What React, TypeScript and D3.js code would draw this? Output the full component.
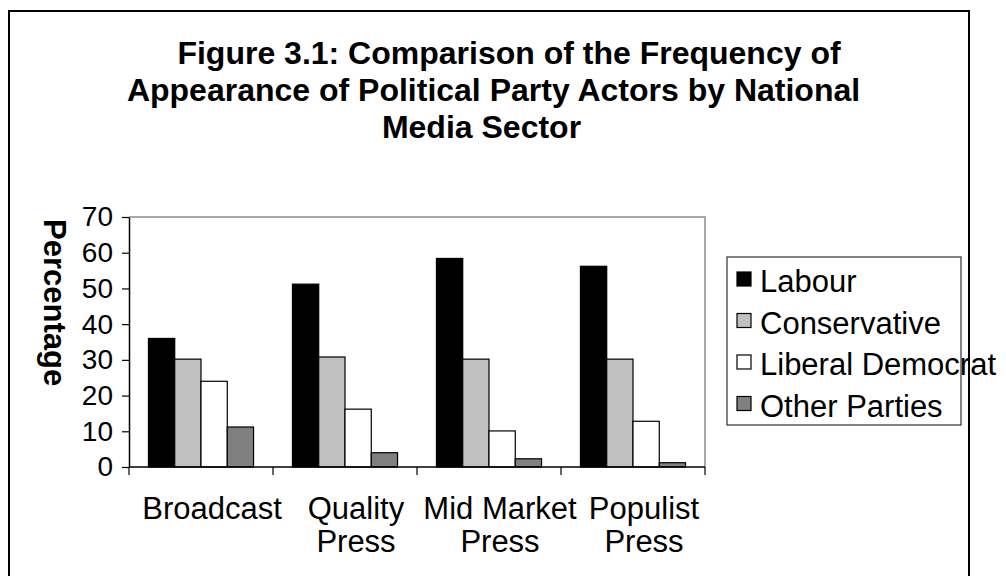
import React, { useEffect, useRef } from 'react';
import * as d3 from 'd3';

const sectors: string[][] = [['Broadcast'], ['Quality', 'Press'], ['Mid Market', 'Press'], ['Populist', 'Press']];
const sectorKeys = ['Broadcast', 'Quality Press', 'Mid Market Press', 'Populist Press'];
const parties = ['Labour', 'Conservative', 'Liberal Democrat', 'Other Parties'];
const partyColors = ['#000000', '#c0c0c0', '#ffffff', '#808080'];

const labour = [36.0, 51.2, 58.4, 56.2];
const conservative = [30.2, 30.8, 30.2, 30.2];
const libDem = [24.0, 16.2, 10.1, 12.8];
const otherParties = [11.2, 4.0, 2.3, 1.2];

const yTicks = [0, 10, 20, 30, 40, 50, 60, 70];
const titleLines = [
  'Figure 3.1: Comparison of the Frequency of',
  'Appearance of Political Party Actors by National',
  'Media Sector',
];

const FONT = "'Liberation Sans', Arial, sans-serif";

export default function App() {
  const svgRef = useRef<SVGSVGElement>(null);
  const width = 1006;
  const height = 576;

  useEffect(() => {
    if (!svgRef.current) return;
    const svg = d3.select(svgRef.current);
    svg.selectAll('*').remove();

    const plot = { left: 129, right: 705, top: 217, bottom: 467 };
    const series = [labour, conservative, libDem, otherParties];

    // outer frame (bottom edge is cut off in the original)
    svg.append('rect')
      .attr('x', 9).attr('y', 11)
      .attr('width', 960).attr('height', 620)
      .attr('fill', 'none')
      .attr('stroke', '#000')
      .attr('stroke-width', 2);

    // title
    const titleCenters = [509, 493.5, 481.5];
    titleLines.forEach((t, i) => {
      svg.append('text')
        .attr('x', titleCenters[i])
        .attr('y', 64 + i * 37)
        .attr('text-anchor', 'middle')
        .style('font-family', FONT)
        .style('font-weight', 'bold')
        .style('font-size', '32px')
        .text(t);
    });

    const x0 = d3.scaleBand<string>()
      .domain(sectorKeys)
      .range([plot.left, plot.right])
      .padding(0);

    const x1 = d3.scaleBand<string>()
      .domain(parties)
      .range([0, x0.bandwidth()])
      .paddingInner(0)
      .paddingOuter(0.74);

    const y = d3.scaleLinear()
      .domain([0, 70])
      .range([plot.bottom, plot.top]);

    // plot border (top/right grey)
    svg.append('path')
      .attr('d', `M${plot.left},${plot.top}H${plot.right}V${plot.bottom}`)
      .attr('fill', 'none')
      .attr('stroke', '#8c8c8c')
      .attr('stroke-width', 1.5);

    // bars
    sectorKeys.forEach((s, si) => {
      const g = svg.append('g').attr('transform', `translate(${x0(s)},0)`);
      parties.forEach((p, pi) => {
        const v = series[pi][si];
        g.append('rect')
          .attr('x', x1(p)!)
          .attr('y', y(v))
          .attr('width', x1.bandwidth())
          .attr('height', y(0) - y(v))
          .attr('fill', partyColors[pi])
          .attr('stroke', '#000')
          .attr('stroke-width', 1.2);
      });
    });

    // y axis
    const yAxis = svg.append('g')
      .attr('transform', `translate(${plot.left},0)`)
      .call(d3.axisLeft(y).tickValues(yTicks).tickSize(7).tickPadding(9).tickSizeOuter(0));
    yAxis.select('.domain').attr('stroke', '#000').attr('stroke-width', 1.5);
    yAxis.selectAll('.tick line').attr('stroke', '#000').attr('stroke-width', 1.2);
    yAxis.selectAll('.tick text')
      .style('font-family', FONT)
      .style('font-size', '28px')
      .attr('fill', '#000');

    // x axis line and category boundary ticks
    svg.append('line')
      .attr('x1', plot.left).attr('x2', plot.right)
      .attr('y1', y(0)).attr('y2', y(0))
      .attr('stroke', '#000').attr('stroke-width', 1.5);

    const bounds = sectorKeys.map(s => x0(s)!).concat([plot.right]);
    bounds.forEach(b => {
      svg.append('line')
        .attr('x1', b).attr('x2', b)
        .attr('y1', y(0)).attr('y2', y(0) + 8)
        .attr('stroke', '#000').attr('stroke-width', 1.2);
    });

    // category labels
    sectors.forEach((lines, si) => {
      const cx = x0(sectorKeys[si])! + x0.bandwidth() / 2 + 11;
      const t = svg.append('text')
        .attr('text-anchor', 'middle')
        .style('font-family', FONT)
        .style('font-size', '31px');
      lines.forEach((ln, li) => {
        t.append('tspan')
          .attr('x', cx)
          .attr('y', 519 + li * 32.5)
          .text(ln);
      });
    });

    // y axis title
    svg.append('text')
      .attr('transform', 'translate(44,219) rotate(90)')
      .style('font-family', FONT)
      .style('font-weight', 'bold')
      .style('font-size', '31px')
      .text('Percentage');

    // legend
    svg.append('rect')
      .attr('x', 727).attr('y', 257)
      .attr('width', 234).attr('height', 168)
      .attr('fill', 'none')
      .attr('stroke', '#333')
      .attr('stroke-width', 1.2);

    parties.forEach((p, i) => {
      const by = 292 + i * 41.5;
      svg.append('rect')
        .attr('x', 737).attr('y', by - 20)
        .attr('width', 14).attr('height', 14)
        .attr('fill', partyColors[i])
        .attr('stroke', '#000')
        .attr('stroke-width', 1.2);
      svg.append('text')
        .attr('x', 760)
        .attr('y', by)
        .style('font-family', FONT)
        .style('font-size', '31px')
        .text(p);
    });
  }, []);

  return (
    <svg
      ref={svgRef}
      width={width}
      height={height}
      style={{ position: 'absolute', left: 0, top: 0, background: '#fff', display: 'block' }}
    />
  );
}
